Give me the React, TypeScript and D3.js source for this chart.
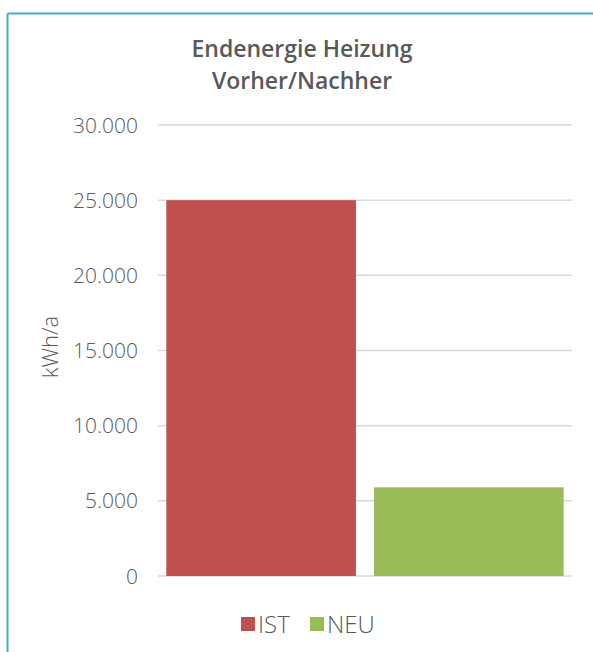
import React from "react";
import * as d3 from "d3";

const categories: string[] = ["IST", "NEU"];
const values: number[] = [25000, 5900];
const colors: string[] = ["#C0504D", "#9BBB59"];
const yTicks: number[] = [0, 5000, 10000, 15000, 20000, 25000, 30000];
const titleLines: string[] = ["Endenergie Heizung", "Vorher/Nachher"];
const yAxisTitle = "kWh/a";

const W = 593;
const H = 652;
const plot = { left: 158, right: 572, top: 125, bottom: 576 };

const fmt = (v: number) => d3.format(",")(v).replace(/,/g, ".");

export default function App() {
  const x = d3
    .scaleBand<string>()
    .domain(categories)
    .range([plot.left, plot.right])
    .paddingInner(0.087)
    .paddingOuter(0.04);
  const y = d3.scaleLinear().domain([0, 30000]).range([plot.bottom, plot.top]);
  const font = "'Open Sans', Roboto, sans-serif";
  const textColor = "#595959";

  const legendItems = [
    { label: categories[0], color: colors[0], x: 241 },
    { label: categories[1], color: colors[1], x: 310 },
  ];

  return (
    <div style={{ position: "fixed", left: 0, top: 0 }}>
      <svg width={W} height={H} style={{ display: "block" }}>
        <rect x={0} y={0} width={W} height={H} fill="#fff" />
        {/* border */}
        <line x1={7.5} y1={13.5} x2={W} y2={13.5} stroke="#4BACC6" strokeWidth={2} />
        <line x1={7.5} y1={13.5} x2={7.5} y2={H} stroke="#4BACC6" strokeWidth={2} />
        {/* title */}
        {titleLines.map((t, i) => (
          <text
            key={t}
            x={302}
            y={57 + i * 32}
            textAnchor="middle"
            fontFamily={font}
            fontWeight={600}
            fontSize={23}
            fill={textColor}
          >
            {t}
          </text>
        ))}
        {/* gridlines */}
        {yTicks.map((t) => (
          <line
            key={t}
            x1={plot.left}
            x2={plot.right}
            y1={y(t)}
            y2={y(t)}
            stroke="#D9D9D9"
            strokeWidth={1.5}
          />
        ))}
        {/* tick labels */}
        {yTicks.map((t) => (
          <text
            key={"l" + t}
            x={138}
            y={y(t)}
            dy="0.36em"
            textAnchor="end"
            fontFamily={font}
            fontWeight={300}
            fontSize={21}
            fill={textColor}
          >
            {fmt(t)}
          </text>
        ))}
        {/* bars */}
        {categories.map((c, i) => (
          <rect
            key={c}
            x={x(c)}
            y={y(values[i])}
            width={x.bandwidth()}
            height={y(0) - y(values[i])}
            fill={colors[i]}
          />
        ))}
        {/* y axis title */}
        <text
          transform={`translate(50, ${347}) rotate(-90)`}
          textAnchor="middle"
          dy="0.35em"
          fontFamily={font}
          fontWeight={300}
          fontSize={22}
          fill={textColor}
        >
          {yAxisTitle}
        </text>
        {/* legend */}
        {legendItems.map((l) => (
          <g key={l.label}>
            <rect x={l.x} y={617} width={14} height={14} fill={l.color} />
            <text
              x={l.x + 17}
              y={633}
              fontFamily={font}
              fontWeight={300}
              fontSize={24}
              fill={textColor}
            >
              {l.label}
            </text>
          </g>
        ))}
      </svg>
    </div>
  );
}
